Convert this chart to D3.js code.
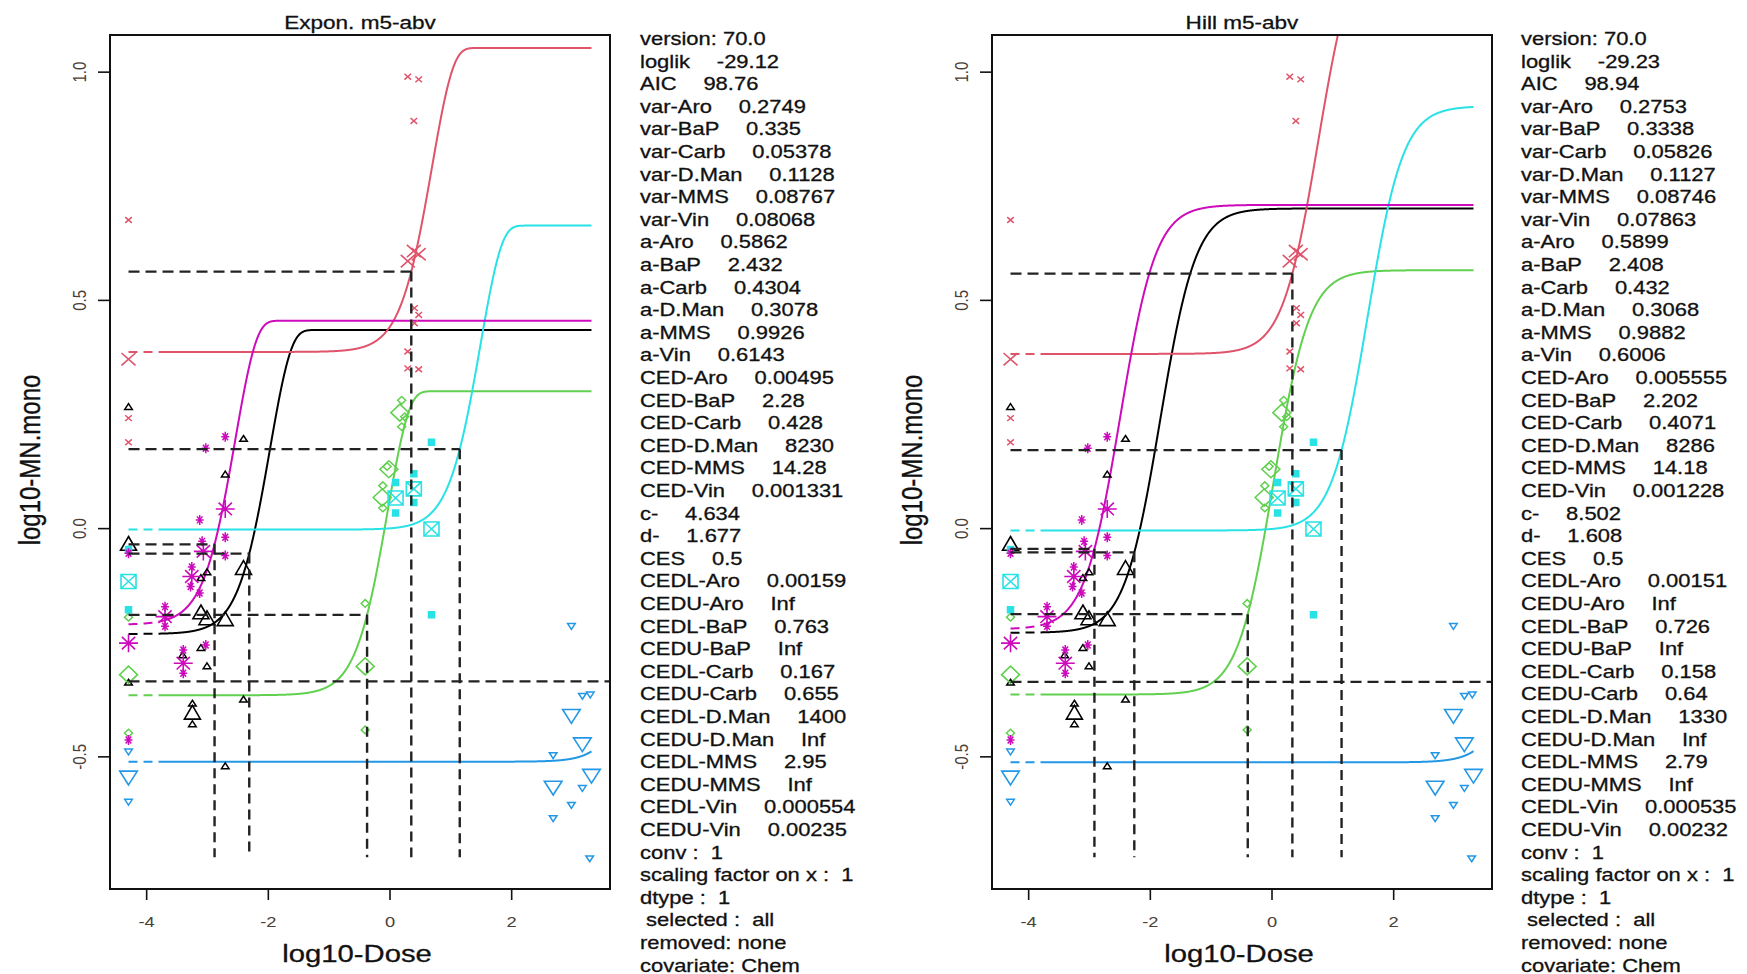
<!DOCTYPE html>
<html>
<head>
<meta charset="utf-8">
<script src="https://cdn.jsdelivr.net/npm/d3@7/dist/d3.min.js"></script>
<style>
  body { margin: 0; background: #fff; }
  svg text { font-family: "Liberation Sans", Arial, sans-serif; fill: #111; white-space: pre;
             stroke: #111; stroke-width: 0.3px; }
</style>
</head>
<body>
<svg width="1747" height="974"></svg>
<script>
// subgroups of the covariate Chem
var chems = ["Aro", "BaP", "Carb", "D.Man", "MMS", "Vin"];

// Expon. m5-abv fit
var expLoglik = -29.12, expAIC = 98.76;
var expVar  = [0.2749, 0.335, 0.05378, 0.1128, 0.08767, 0.08068];
var expA    = [0.5862, 2.432, 0.4304, 0.3078, 0.9926, 0.6143];
var expCED  = [0.00495, 2.28, 0.428, 8230, 14.28, 0.001331];
var expCEDL = [0.00159, 0.763, 0.167, 1400, 2.95, 0.000554];
var expCEDU = [Infinity, Infinity, 0.655, Infinity, Infinity, 0.00235];
var expC = 4.634, expD = 1.677;

// Hill m5-abv fit
var hillLoglik = -29.23, hillAIC = 98.94;
var hillVar  = [0.2753, 0.3338, 0.05826, 0.1127, 0.08746, 0.07863];
var hillA    = [0.5899, 2.408, 0.432, 0.3068, 0.9882, 0.6006];
var hillCED  = [0.005555, 2.202, 0.4071, 8286, 14.18, 0.001228];
var hillCEDL = [0.00151, 0.726, 0.158, 1330, 2.79, 0.000535];
var hillCEDU = [Infinity, Infinity, 0.64, Infinity, Infinity, 0.00232];
var hillC = 8.502, hillD = 1.608;

var CES = 0.5;

// observations [log10-Dose, log10-MN.mono], controls at the left limit
var aroObs = [[-4.29,0.265],[-4.29,-0.339],[-3.40,-0.279],[-3.24,-0.385],[-3.24,-0.43],[-3.10,-0.110],[-3.10,-0.263],
              [-3.00,-0.097],[-3.00,-0.303],[-2.70,0.117],[-2.70,-0.522],[-2.40,0.195],[-2.40,-0.376]];
var aroMeans = [[-4.29,-0.037],[-3.24,-0.407],[-3.10,-0.187],[-3.00,-0.200],[-2.70,-0.202],[-2.40,-0.090]];
var bapObs = [[-4.29,0.675],[-4.29,0.241],[-4.29,0.188],[0.30,0.989],[0.48,0.983],[0.40,0.892],[0.41,0.482],
              [0.48,0.467],[0.41,0.449],[0.30,0.387],[0.30,0.350],[0.48,0.348]];
var bapMeans = [[-4.29,0.370],[0.30,0.585],[0.40,0.607],[0.48,0.600]];
var carbObs = [[-4.29,-0.195],[-4.29,-0.449],[-0.40,-0.165],[-0.40,-0.442],[-0.11,0.093],[-0.11,0.044],
               [-0.04,0.135],[0.20,0.280],[0.20,0.222],[0.25,0.244]];
var carbMeans = [[-4.29,-0.321],[-0.40,-0.303],[-0.12,0.067],[-0.01,0.129],[0.17,0.253]];
var dmanObs = [[-4.29,-0.489],[-4.29,-0.599],[2.69,-0.497],[2.69,-0.635],[2.99,-0.214],[2.99,-0.606],
               [3.17,-0.367],[3.17,-0.569],[3.30,-0.364],[3.29,-0.723]];
var dmanMeans = [[-4.29,-0.544],[2.69,-0.566],[2.99,-0.409],[3.17,-0.471],[3.32,-0.540]];
var mmsObs = [[-4.29,-0.047],[-4.29,-0.179],[0.10,0.100],[0.10,0.033],[0.40,0.119],[0.40,0.056],[0.69,0.188],[0.69,-0.190]];
var mmsMeans = [[-4.29,-0.117],[0.10,0.066],[0.40,0.086],[0.69,-0.002]];
var vinObs = [[-4.29,-0.055],[-4.29,-0.464],[-3.69,-0.172],[-3.69,-0.215],[-3.39,-0.267],[-3.39,-0.318],
              [-3.27,-0.128],[-3.25,-0.085],[-3.12,0.018],[-3.12,-0.142],[-3.08,-0.029],[-3.02,0.175],
              [-3.02,-0.256],[-2.70,0.200],[-2.70,-0.020],[-2.70,-0.060]];
var vinMeans = [[-4.29,-0.252],[-3.69,-0.194],[-3.39,-0.296],[-3.25,-0.106],[-3.06,-0.051],[-2.70,0.042]];

var xLimits = [-4.29, 3.32];
var yLimits = [-0.7213, 1.011];
var xTicks = [-4, -2, 0, 2];
var yTicks = [-0.5, 0, 0.5, 1];

var obsByChem   = [aroObs, bapObs, carbObs, dmanObs, mmsObs, vinObs];
var meansByChem = [aroMeans, bapMeans, carbMeans, dmanMeans, mmsMeans, vinMeans];
var colors  = ["#000000", "#DF536B", "#61D04F", "#2297E6", "#28E2E5", "#CD0BBC"];
var symbols = ["tri", "x", "diamond", "itri", "sqx", "ast"];

var SX = 1.22;   // the original picture is stretched sideways
var svg = d3.select("svg");

var panels = [
  {left: 110, title: "Expon. m5-abv", type: "exp", loglik: expLoglik, aic: expAIC, v: expVar, a: expA,
   ced: expCED, cedl: expCEDL, cedu: expCEDU, c: expC, d: expD, textX: 640},
  {left: 992, title: "Hill m5-abv", type: "hill", loglik: hillLoglik, aic: hillAIC, v: hillVar, a: hillA,
   ced: hillCED, cedl: hillCEDL, cedu: hillCEDU, c: hillC, d: hillD, textX: 1521}
];
var plotW = 500, plotTop = 35, plotBottom = 889;

function pad(lim) {
  var r = lim[1] - lim[0];
  return [lim[0] - 0.04 * r, lim[1] + 0.04 * r];
}

function fmt(v) { return v === Infinity ? "Inf" : String(v); }

function modelFn(p, i) {
  var a = p.a[i], c = p.c, d = p.d, ced = p.ced[i], b;
  if (p.type == "exp") {
    b = ced / Math.pow(-Math.log((c - 1 - CES) / (c - 1)), 1 / d);
    return function(x) { return a * (c - (c - 1) * Math.exp(-Math.pow(x / b, d))); };
  }
  b = ced / Math.pow(CES / (c - 1 - CES), 1 / d);
  return function(x) {
    var xd = Math.pow(x, d);
    return a * (1 + (c - 1) * xd / (Math.pow(b, d) + xd));
  };
}

function symPath(type, w, h) {
  switch (type) {
    case "tri": return "M0," + (-h) + "L" + w + "," + (0.62*h) + "L" + (-w) + "," + (0.62*h) + "Z";
    case "itri": return "M0," + h + "L" + w + "," + (-0.62*h) + "L" + (-w) + "," + (-0.62*h) + "Z";
    case "x": return "M" + (-w) + "," + (-h) + "L" + w + "," + h + "M" + w + "," + (-h) + "L" + (-w) + "," + h;
    case "diamond": return "M0," + (-h) + "L" + w + ",0L0," + h + "L" + (-w) + ",0Z";
    case "sqx": return "M" + (-w) + "," + (-h) + "H" + w + "V" + h + "H" + (-w) + "Z" +
                       "M" + (-w) + "," + (-h) + "L" + w + "," + h + "M" + w + "," + (-h) + "L" + (-w) + "," + h;
    case "ast": return "M" + (-w) + ",0H" + w + "M0," + (-h) + "V" + h +
                       "M" + (-0.7*w) + "," + (-0.7*h) + "L" + (0.7*w) + "," + (0.7*h) +
                       "M" + (0.7*w) + "," + (-0.7*h) + "L" + (-0.7*w) + "," + (0.7*h);
  }
}
var bigSize = {tri: [8, 8.5], itri: [8.8, 8.5], x: [7, 6.2], diamond: [9, 8.5], sqx: [7.5, 7], ast: [9.5, 9]};
var smallSize = {tri: [3.8, 3.6], itri: [3.8, 3.6], x: [3.3, 2.9], diamond: [4, 3.8], sqx: [3, 3], ast: [4, 5]};

panels.forEach(function(p, pi) {
  var x = d3.scaleLinear().domain(pad(xLimits)).range([p.left, p.left + plotW]);
  var y = d3.scaleLinear().domain(pad(yLimits)).range([plotBottom, plotTop]);
  var g = svg.append("g");

  g.append("clipPath").attr("id", "clip" + pi)
    .append("rect").attr("x", p.left).attr("y", plotTop)
    .attr("width", plotW).attr("height", plotBottom - plotTop);
  var plot = g.append("g").attr("clip-path", "url(#clip" + pi + ")");

  // fitted curves: dashed between control and lowest dose, solid above
  var lowDose = d3.min(obsByChem, function(o) {
    return d3.min(o, function(d) { return d[0] > xLimits[0] + 0.1 ? d[0] : Infinity; });
  });
  var line = d3.line().x(function(d) { return x(d[0]); }).y(function(d) { return y(d[1]); });
  chems.forEach(function(ch, i) {
    var f = modelFn(p, i);
    var low = d3.range(xLimits[0], lowDose, 0.01).concat([lowDose]);
    var high = d3.range(lowDose, xLimits[1], 0.004).concat([xLimits[1]]);
    plot.append("path")
      .datum(low.map(function(lx) { return [lx, Math.log10(f(Math.pow(10, lx)))]; }))
      .attr("d", line).attr("fill", "none").attr("stroke", colors[i])
      .attr("stroke-width", 2).attr("stroke-dasharray", "9,6");
    plot.append("path")
      .datum(high.map(function(lx) { return [lx, Math.log10(f(Math.pow(10, lx)))]; }))
      .attr("d", line).attr("fill", "none").attr("stroke", colors[i]).attr("stroke-width", 2);
  });

  // observations (small) and means (large)
  chems.forEach(function(ch, i) {
    var t = symbols[i];
    [[obsByChem[i], smallSize[t], true], [meansByChem[i], bigSize[t], false]].forEach(function(set) {
      plot.selectAll(null).data(set[0]).enter().append("path")
        .attr("transform", function(d) { return "translate(" + x(d[0]) + "," + y(d[1]) + ")"; })
        .attr("d", symPath(t, set[1][0], set[1][1]))
        .attr("fill", set[2] && t == "sqx" ? colors[i] : "none")
        .attr("stroke", colors[i])
        .attr("stroke-width", set[2] ? 1.5 : 1.6);
    });
  });

  // CED lines
  var xr = x.domain()[1];
  chems.forEach(function(ch, i) {
    var yc = Math.log10(p.a[i] * (1 + CES)), xc = Math.log10(p.ced[i]);
    plot.append("line")
      .attr("x1", x(xLimits[0])).attr("x2", x(Math.min(xc, xr)))
      .attr("y1", y(yc)).attr("y2", y(yc))
      .attr("stroke", "#222").attr("stroke-width", 2.2).attr("stroke-dasharray", "11,6");
    if (xc < xLimits[1]) {
      plot.append("line")
        .attr("x1", x(xc)).attr("x2", x(xc))
        .attr("y1", y(yc)).attr("y2", y(yLimits[0]))
        .attr("stroke", "#222").attr("stroke-width", 2.4).attr("stroke-dasharray", "10,6");
    }
  });

  g.append("rect").attr("x", p.left).attr("y", plotTop)
    .attr("width", plotW).attr("height", plotBottom - plotTop)
    .attr("fill", "none").attr("stroke", "#111").attr("stroke-width", 2);

  // axes
  var ax = g.append("g").attr("transform", "translate(0," + plotBottom + ")")
    .call(d3.axisBottom(x).tickValues(xTicks).tickSize(11).tickFormat(function(d) { return String(d); }));
  var ay = g.append("g").attr("transform", "translate(" + p.left + ",0)")
    .call(d3.axisLeft(y).tickValues(yTicks).tickSize(12).tickFormat(function(d) { return d.toFixed(1); }));
  [ax, ay].forEach(function(a) {
    a.select(".domain").remove();
    a.selectAll("line").attr("stroke", "#111").attr("stroke-width", 1.6);
    a.selectAll("text").attr("x", null).attr("y", null).attr("dy", null)
      .attr("font-family", null).attr("font-size", null)
      .style("font-size", "15px").style("fill", "#4a4036").style("stroke", "none")
      .attr("text-anchor", "middle");
  });
  ax.selectAll("text").attr("transform", "translate(0,37.5) scale(" + SX + ",1)");
  ay.selectAll("text").attr("transform", "translate(-24,0) scale(" + SX + ",1) rotate(-90)");

  var cx = p.left + plotW / 2;
  g.append("text").attr("text-anchor", "middle")
    .attr("transform", "translate(" + cx + ",29) scale(" + SX + ",1)")
    .style("font-size", "18.5px").text(p.title);
  g.append("text").attr("text-anchor", "middle")
    .attr("transform", "translate(" + (cx - 3) + ",962) scale(" + SX + ",1)")
    .style("font-size", "24px").text("log10-Dose");
  g.append("text").attr("text-anchor", "middle")
    .attr("transform", "translate(" + (p.left - 70) + ",460) scale(" + SX + ",1) rotate(-90)")
    .style("font-size", "24px").text("log10-MN.mono");

  // fit summary
  var rows = [["version: 70.0"], ["loglik", fmt(p.loglik)], ["AIC", fmt(p.aic)]];
  chems.forEach(function(ch, i) { rows.push(["var-" + ch, fmt(p.v[i])]); });
  chems.forEach(function(ch, i) { rows.push(["a-" + ch, fmt(p.a[i])]); });
  chems.forEach(function(ch, i) { rows.push(["CED-" + ch, fmt(p.ced[i])]); });
  rows.push(["c-", fmt(p.c)], ["d-", fmt(p.d)], ["CES", fmt(CES)]);
  chems.forEach(function(ch, i) {
    rows.push(["CEDL-" + ch, fmt(p.cedl[i])], ["CEDU-" + ch, fmt(p.cedu[i])]);
  });
  rows.push(["conv :  1"], ["scaling factor on x :  1"], ["dtype :  1"], [" selected :  all"],
            ["removed: none"], ["covariate: Chem"]);

  rows.forEach(function(r, i) {
    var t = g.append("text")
      .attr("transform", "translate(" + p.textX + "," + (45 + i * 22.6) + ") scale(" + SX + ",1)")
      .style("font-size", "18px").text(r[0]);
    if (r.length > 1) t.append("tspan").attr("dx", 22).text(r[1]);
  });
});
</script>
</body>
</html>
